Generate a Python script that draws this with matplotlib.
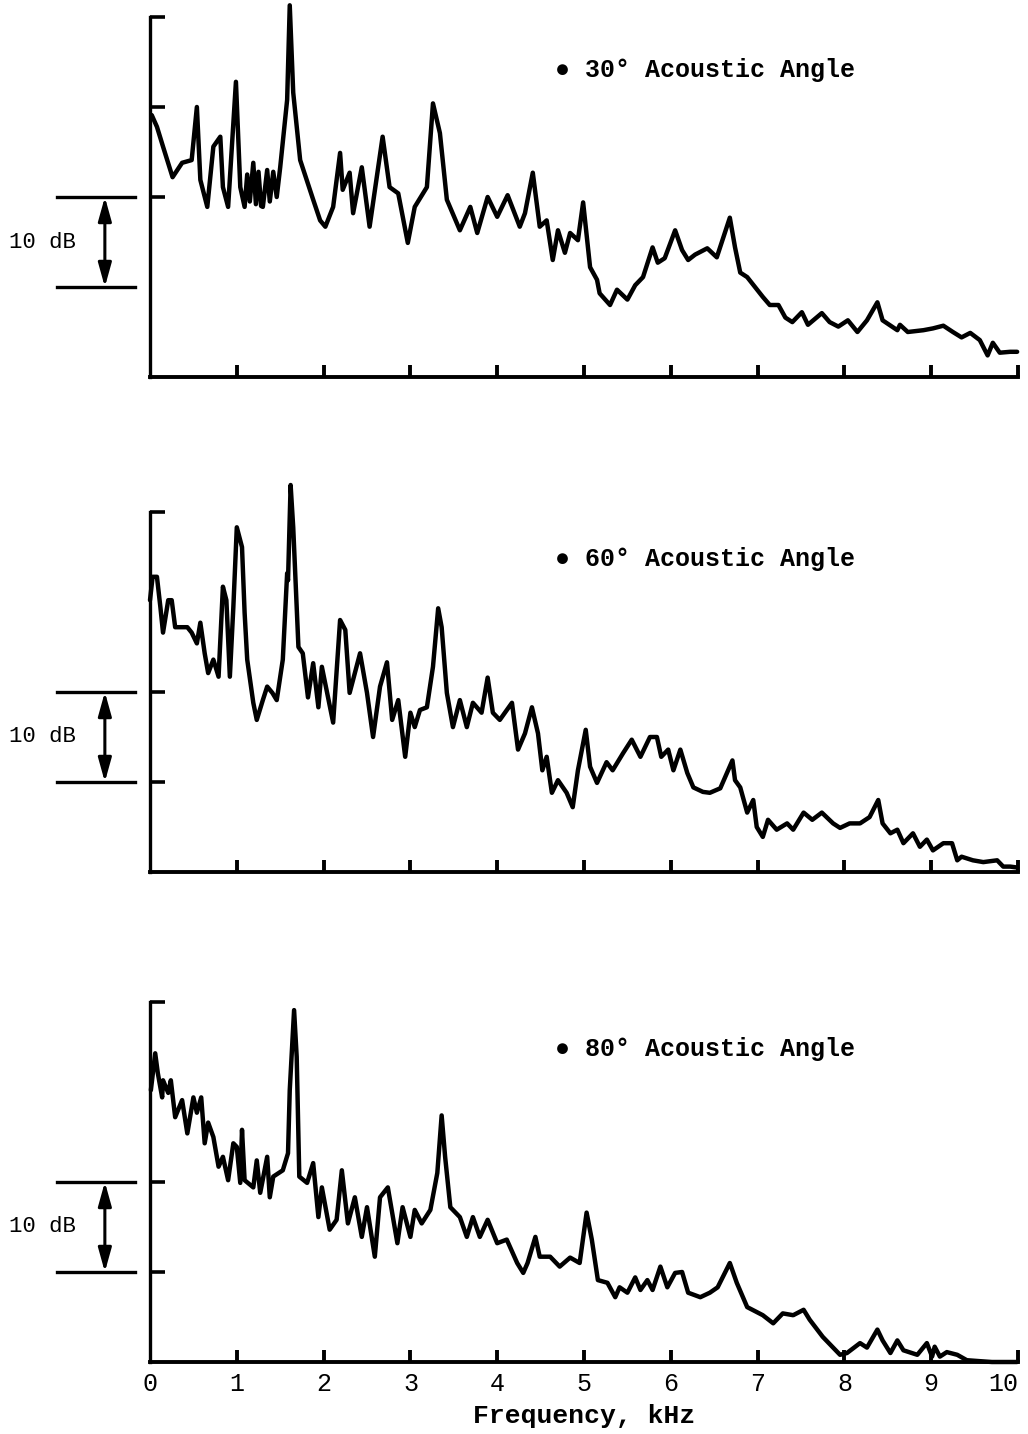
"""Narrowband spectra at three acoustic angles (0-10 kHz), stacked panels."""

import matplotlib.pyplot as plt
from matplotlib.transforms import blended_transform_factory

plt.rcParams.update({
    'font.family': 'Liberation Mono',
    'font.size': 16,
})

# ---- data (kHz, dB above panel baseline) ----
F30 = [0.02, 0.08, 0.15, 0.26, 0.37, 0.48, 0.54, 0.58, 0.66, 0.73, 0.81, 0.84, 0.90, 0.99,
       1.04, 1.09, 1.12, 1.15, 1.19, 1.22, 1.25, 1.28, 1.30, 1.35, 1.38, 1.42, 1.46, 1.50,
       1.58, 1.61, 1.65, 1.73, 1.88, 1.96, 2.02, 2.11, 2.19, 2.22, 2.30, 2.34, 2.44, 2.53,
       2.68, 2.76, 2.86, 2.97, 3.05, 3.19, 3.26, 3.34, 3.42, 3.57, 3.69, 3.77, 3.89, 4.00,
       4.12, 4.26, 4.32, 4.41, 4.49, 4.57, 4.64, 4.70, 4.78, 4.84, 4.93, 4.99, 5.07, 5.15,
       5.18, 5.30, 5.38, 5.50, 5.59, 5.68, 5.79, 5.85, 5.93, 6.05, 6.13, 6.20, 6.28, 6.42,
       6.53, 6.68, 6.74, 6.80, 6.88, 7.06, 7.14, 7.24, 7.32, 7.40, 7.51, 7.58, 7.74, 7.83,
       7.93, 8.04, 8.15, 8.26, 8.38, 8.44, 8.61, 8.64, 8.73, 8.91, 9.02, 9.14, 9.25, 9.35,
       9.45, 9.56, 9.65, 9.71, 9.79, 9.91, 9.99]
L30 = [29.1, 27.8, 25.6, 22.2, 23.8, 24.1, 30.0, 21.9, 18.9, 25.6, 26.7, 21.1, 18.9, 32.8,
       21.1, 18.9, 22.5, 19.5, 23.8, 19.2, 22.8, 19.0, 18.9, 23.0, 19.5, 22.8, 20.0, 23.3,
       30.8, 41.3, 31.6, 24.1, 19.7, 17.4, 16.7, 18.9, 24.9, 20.8, 22.7, 18.2, 23.3, 16.7,
       26.7, 21.1, 20.4, 14.9, 18.9, 21.1, 30.4, 27.1, 19.7, 16.3, 18.9, 16.0, 20.0, 17.8,
       20.2, 16.7, 18.2, 22.7, 16.7, 17.4, 13.0, 16.3, 13.8, 16.0, 15.2, 19.4, 12.2, 10.8,
       9.3, 8.0, 9.7, 8.6, 10.2, 11.1, 14.4, 12.7, 13.2, 16.3, 14.1, 13.0, 13.6, 14.3,
       13.3, 17.7, 14.4, 11.6, 11.1, 8.9, 8.0, 8.0, 6.6, 6.1, 7.2, 5.8, 7.1, 6.1,
       5.6, 6.3, 5.0, 6.3, 8.3, 6.3, 5.2, 5.8, 5.0, 5.2, 5.4, 5.7, 5.0, 4.4,
       4.9, 4.1, 2.4, 3.8, 2.7, 2.8, 2.8]

F60 = [0.00, 0.03, 0.08, 0.12, 0.15, 0.21, 0.25, 0.29, 0.37, 0.43, 0.48, 0.54, 0.58, 0.63,
       0.67, 0.73, 0.79, 0.84, 0.88, 0.92, 0.96, 1.00, 1.06, 1.09, 1.12, 1.19, 1.23, 1.30,
       1.35, 1.41, 1.46, 1.53, 1.58, 1.59, 1.62, 1.65, 1.71, 1.76, 1.82, 1.88, 1.94, 1.98,
       2.11, 2.19, 2.25, 2.30, 2.42, 2.50, 2.57, 2.65, 2.73, 2.79, 2.86, 2.94, 3.00, 3.05,
       3.11, 3.19, 3.26, 3.32, 3.36, 3.42, 3.49, 3.57, 3.65, 3.72, 3.82, 3.89, 3.95, 4.03,
       4.17, 4.24, 4.32, 4.40, 4.47, 4.52, 4.57, 4.63, 4.70, 4.80, 4.87, 4.93, 5.02, 5.07,
       5.15, 5.26, 5.33, 5.45, 5.55, 5.65, 5.76, 5.84, 5.89, 5.97, 6.03, 6.11, 6.19, 6.26,
       6.37, 6.45, 6.57, 6.71, 6.74, 6.80, 6.88, 6.95, 6.99, 7.06, 7.12, 7.22, 7.34, 7.41,
       7.53, 7.63, 7.74, 7.87, 7.95, 8.06, 8.18, 8.29, 8.39, 8.44, 8.53, 8.61, 8.68, 8.79,
       8.87, 8.95, 9.02, 9.14, 9.24, 9.30, 9.35, 9.48, 9.60, 9.76, 9.83, 9.91, 9.99]
L60 = [30.2, 32.8, 32.8, 29.4, 26.6, 30.2, 30.2, 27.2, 27.2, 27.2, 26.6, 25.4, 27.7, 24.3,
       22.1, 23.6, 21.7, 31.7, 30.2, 21.7, 29.4, 38.3, 36.1, 28.8, 23.6, 18.8, 16.9, 19.1,
       20.6, 19.9, 19.1, 23.6, 33.2, 32.4, 43.0, 38.3, 25.0, 24.3, 19.4, 23.2, 18.3, 22.8,
       16.6, 28.0, 26.9, 19.9, 24.3, 19.9, 15.0, 20.6, 23.3, 16.9, 19.1, 12.8, 17.7, 16.1,
       18.0, 18.3, 22.8, 29.3, 27.2, 19.9, 16.1, 19.1, 16.1, 18.8, 17.7, 21.6, 17.7, 16.9,
       18.8, 13.6, 15.4, 18.3, 15.4, 11.3, 12.8, 8.8, 10.2, 8.8, 7.2, 11.3, 15.8, 11.7,
       9.9, 12.2, 11.3, 13.2, 14.7, 12.8, 15.0, 15.0, 12.8, 13.6, 11.3, 13.6, 11.0, 9.4,
       8.9, 8.8, 9.3, 12.4, 10.2, 9.4, 6.6, 8.0, 5.0, 3.9, 5.8, 4.7, 5.4, 4.7,
       6.6, 5.8, 6.6, 5.4, 4.9, 5.4, 5.4, 6.1, 8.0, 5.4, 4.3, 4.7, 3.2, 4.3,
       2.8, 3.6, 2.4, 3.2, 3.2, 1.3, 1.7, 1.3, 1.1, 1.3, 0.6, 0.6, 0.5]

F80 = [0.01, 0.06, 0.09, 0.14, 0.15, 0.21, 0.24, 0.29, 0.37, 0.43, 0.50, 0.54, 0.59, 0.63,
       0.67, 0.73, 0.79, 0.84, 0.90, 0.96, 1.00, 1.04, 1.06, 1.09, 1.19, 1.23, 1.27, 1.35,
       1.38, 1.42, 1.53, 1.59, 1.61, 1.66, 1.69, 1.72, 1.81, 1.88, 1.94, 1.98, 2.07, 2.15,
       2.21, 2.28, 2.36, 2.44, 2.50, 2.59, 2.65, 2.74, 2.85, 2.91, 3.00, 3.05, 3.13, 3.23,
       3.31, 3.36, 3.40, 3.46, 3.57, 3.65, 3.72, 3.80, 3.89, 4.00, 4.11, 4.23, 4.30, 4.35,
       4.44, 4.49, 4.61, 4.72, 4.84, 4.95, 5.03, 5.09, 5.16, 5.27, 5.36, 5.41, 5.50, 5.59,
       5.65, 5.73, 5.79, 5.88, 5.96, 6.05, 6.13, 6.20, 6.34, 6.45, 6.54, 6.68, 6.76, 6.88,
       7.06, 7.18, 7.29, 7.41, 7.53, 7.60, 7.75, 7.95, 8.03, 8.18, 8.26, 8.38, 8.44, 8.53,
       8.61, 8.68, 8.84, 8.95, 9.01, 9.04, 9.10, 9.18, 9.30, 9.41, 9.55, 9.70, 9.99]
L80 = [30.2, 34.3, 32.1, 29.4, 31.3, 29.9, 31.3, 27.2, 29.1, 25.4, 29.4, 27.7, 29.4, 24.3,
       26.6, 25.0, 21.7, 22.8, 20.2, 24.3, 23.9, 19.9, 25.8, 20.2, 19.4, 22.4, 18.8, 22.8,
       18.3, 20.6, 21.3, 23.2, 30.2, 39.1, 33.9, 20.6, 19.9, 22.1, 16.1, 19.4, 14.7, 15.8,
       21.3, 15.4, 18.3, 13.9, 17.2, 11.7, 18.3, 19.4, 13.2, 17.2, 13.9, 16.9, 15.4, 16.9,
       21.0, 27.4, 22.8, 17.2, 16.1, 13.9, 16.1, 13.9, 15.8, 13.2, 13.6, 11.0, 9.9, 11.0,
       13.9, 11.7, 11.7, 10.6, 11.6, 11.0, 16.6, 13.6, 9.1, 8.8, 7.2, 8.3, 7.7, 9.4,
       8.0, 9.1, 8.0, 10.6, 8.3, 9.9, 10.0, 7.7, 7.2, 7.7, 8.3, 11.0, 8.8, 6.1,
       5.2, 4.3, 5.4, 5.2, 5.8, 4.7, 2.8, 0.8, 1.0, 2.1, 1.6, 3.6, 2.4, 1.0,
       2.4, 1.3, 0.8, 2.1, 0.6, 1.7, 0.6, 1.1, 0.8, 0.2, 0.1, 0.0, 0.0]

PANELS = [
    (F30, L30, '30°', [20, 30, 40]),
    (F60, L60, '60°', [10, 20, 40]),
    (F80, L80, '80°', [10, 20, 40]),
]
XTICKS = list(range(1, 11))
XTICKLABELS = [str(i) for i in range(0, 11)]

W, H = 1028, 1434
X0, X1 = 150, 1018          # pixel extent of the frequency axis
BASE_Y = [377, 872, 1362]   # pixel row of each panel's bottom axis
PX_PER_DB = 9.0
YMAX = 42


def main():
    fig = plt.figure(figsize=(W / 100, H / 100), dpi=100)

    for i, (f, lvl, angle, yt) in enumerate(PANELS):
        bottom = (H - BASE_Y[i]) / H
        height = YMAX * PX_PER_DB / H
        ax = fig.add_axes([X0 / W, bottom, (X1 - X0) / W, height])

        ax.plot(f, lvl, color='black', lw=3.2, solid_joinstyle='round',
                solid_capstyle='round', clip_on=False)

        ax.set_xlim(0, 10)
        ax.set_ylim(0, YMAX)
        for s in ('top', 'right'):
            ax.spines[s].set_visible(False)
        ax.spines['left'].set_bounds(0, 40)
        ax.spines['left'].set_linewidth(2.4)
        ax.spines['bottom'].set_linewidth(2.8)

        ax.set_yticks(yt)
        ax.set_yticklabels([])
        ax.tick_params(axis='y', direction='in', length=11, width=2.6)

        ax.set_xticks(XTICKS)
        ax.tick_params(axis='x', direction='in', length=9, width=2.8, pad=7)
        if i == 2:
            ax.set_xticks([0] + XTICKS)
            ax.set_xticklabels(XTICKLABELS, fontsize=18)
            ax.xaxis.get_major_ticks()[0].tick1line.set_visible(False)
            ax.get_xticklabels()[-1].set_horizontalalignment('right')
            ax.get_xticklabels()[-1].set_x(10.07)
            ax.set_xlabel('Frequency, kHz', fontsize=19, fontweight='bold', labelpad=6)
        else:
            ax.set_xticklabels([])

        # angle label
        ax.text(4.67, 34.8 if i else 34.1, f'\u25cf {angle} Acoustic Angle',
                fontsize=18, fontweight='bold', ha='left', va='center')

        # 10 dB scale bracket, left of the axis
        tr = blended_transform_factory(ax.transAxes, ax.transData)
        for yv in (10, 20):
            ax.plot([-0.107, -0.017], [yv, yv], color='black', lw=2.4,
                    transform=tr, clip_on=False)
        ax.annotate('', xy=(-0.052, 10), xytext=(-0.052, 20), xycoords=tr,
                    textcoords=tr,
                    arrowprops=dict(arrowstyle='<|-|>,head_length=0.9,head_width=0.25',
                                    color='black', lw=2.2, shrinkA=0, shrinkB=0))
        ax.text(-0.124, 15, '10 dB', transform=tr, fontsize=16,
                ha='center', va='center')

    fig.savefig('out.png', dpi=100)


if __name__ == '__main__':
    main()
